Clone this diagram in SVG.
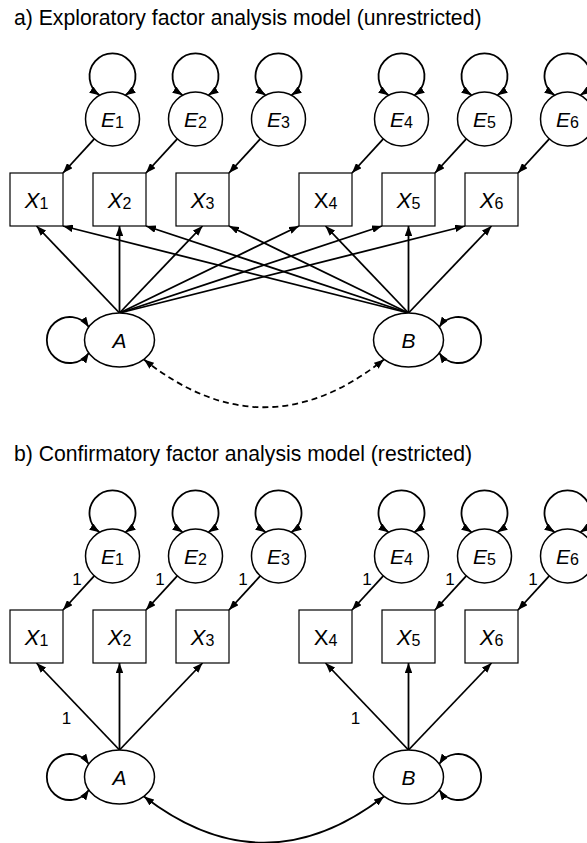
<svg xmlns="http://www.w3.org/2000/svg" width="587" height="843" viewBox="0 0 587 843">
<defs>
<marker id="ah" viewBox="0 0 10 7.5" markerWidth="10" markerHeight="7.5" refX="10" refY="3.75" markerUnits="userSpaceOnUse" orient="auto-start-reverse">
<path d="M0,0 L10,3.75 L0,7.5 z" fill="#000"/>
</marker>
<style>
text{font-family:"Liberation Sans",Arial,Helvetica,sans-serif;fill:#000}
.title{font-size:21.2px}
.box{fill:#fff;stroke:#000;stroke-width:1.2}
.circ{fill:#fff;stroke:#000;stroke-width:1.5}
.lbl{font-size:21px;text-anchor:middle}
.lx{font-size:22px;text-anchor:middle}
.it{font-style:italic}
.sub{font-size:16px}
.one{font-size:17px;text-anchor:middle}
.ar{fill:none;stroke:#000;stroke-width:1.8;marker-end:url(#ah)}
.dbl{fill:none;stroke:#000;stroke-width:1.8;marker-start:url(#ah);marker-end:url(#ah)}
.dash{stroke-dasharray:6 4}
</style>
</defs>
<rect width="587" height="843" fill="#fff"/>

<text class="title" x="14" y="25">a)  Exploratory factor analysis model (unrestricted)</text>
<text class="title" x="14" y="461">b)  Confirmatory factor analysis model (restricted)</text>

<g id="connectors">
<!-- section a: E self loops -->
<path class="dbl" d="M99.5,95.3 A23,23 0 1 1 125.5,95.3"/>
<path class="dbl" d="M182.5,95.3 A23,23 0 1 1 208.5,95.3"/>
<path class="dbl" d="M265.5,95.3 A23,23 0 1 1 291.5,95.3"/>
<path class="dbl" d="M388.5,95.3 A23,23 0 1 1 414.5,95.3"/>
<path class="dbl" d="M471.5,95.3 A23,23 0 1 1 497.5,95.3"/>
<path class="dbl" d="M554.5,95.3 A23,23 0 1 1 580.5,95.3"/>
<!-- E -> X -->
<path class="ar" d="M94.3,138.9 L63,173"/>
<path class="ar" d="M177.3,138.9 L146,173"/>
<path class="ar" d="M260.3,138.9 L229,173"/>
<path class="ar" d="M383.3,138.9 L352,173"/>
<path class="ar" d="M466.3,138.9 L435,173"/>
<path class="ar" d="M549.3,138.9 L518,173"/>
<!-- A loadings -->
<path class="ar" d="M119.5,313 L36.5,226"/>
<path class="ar" d="M119.5,313 L119.5,226"/>
<path class="ar" d="M119.5,313 L202.5,226"/>
<path class="ar" d="M119.5,313 L299,226"/>
<path class="ar" d="M119.5,313 L382,226"/>
<path class="ar" d="M119.5,313 L465,226"/>
<!-- B loadings -->
<path class="ar" d="M408.5,313 L63,226"/>
<path class="ar" d="M408.5,313 L146,226"/>
<path class="ar" d="M408.5,313 L229,226"/>
<path class="ar" d="M408.5,313 L325.5,226"/>
<path class="ar" d="M408.5,313 L408.5,226"/>
<path class="ar" d="M408.5,313 L491.5,226"/>
<!-- factor loops -->
<path class="dbl" d="M88.8,327 A23,23 0 1 0 88.8,353"/>
<path class="dbl" d="M439.2,327 A23,23 0 1 1 439.2,353"/>
<!-- covariance dashed -->
<path class="dbl dash" d="M144,359.5 Q264,455 384,359.5"/>

<!-- section b: E self loops -->
<path class="dbl" d="M99.5,532.3 A23,23 0 1 1 125.5,532.3"/>
<path class="dbl" d="M182.5,532.3 A23,23 0 1 1 208.5,532.3"/>
<path class="dbl" d="M265.5,532.3 A23,23 0 1 1 291.5,532.3"/>
<path class="dbl" d="M388.5,532.3 A23,23 0 1 1 414.5,532.3"/>
<path class="dbl" d="M471.5,532.3 A23,23 0 1 1 497.5,532.3"/>
<path class="dbl" d="M554.5,532.3 A23,23 0 1 1 580.5,532.3"/>
<!-- E -> X -->
<path class="ar" d="M94.3,575.9 L63,610"/>
<path class="ar" d="M177.3,575.9 L146,610"/>
<path class="ar" d="M260.3,575.9 L229,610"/>
<path class="ar" d="M383.3,575.9 L352,610"/>
<path class="ar" d="M466.3,575.9 L435,610"/>
<path class="ar" d="M549.3,575.9 L518,610"/>
<!-- loadings -->
<path class="ar" d="M119.5,750 L36.5,663"/>
<path class="ar" d="M119.5,750 L119.5,663"/>
<path class="ar" d="M119.5,750 L202.5,663"/>
<path class="ar" d="M408.5,750 L325.5,663"/>
<path class="ar" d="M408.5,750 L408.5,663"/>
<path class="ar" d="M408.5,750 L491.5,663"/>
<!-- factor loops -->
<path class="dbl" d="M88.8,764 A23,23 0 1 0 88.8,790"/>
<path class="dbl" d="M439.2,764 A23,23 0 1 1 439.2,790"/>
<!-- covariance -->
<path class="dbl" d="M144,796.5 Q264,889 384,796.5"/>
<!-- fixed loadings -->
<text class="one" x="77" y="585">1</text>
<text class="one" x="160" y="585">1</text>
<text class="one" x="243" y="585">1</text>
<text class="one" x="367" y="585">1</text>
<text class="one" x="450" y="585">1</text>
<text class="one" x="533" y="585">1</text>
<text class="one" x="66.5" y="724">1</text>
<text class="one" x="355.5" y="724">1</text>
</g>

<!-- section a nodes -->
<g id="a-E1"><circle class="circ" cx="112.5" cy="119" r="27"/><text class="lbl" x="112.5" y="126.5"><tspan class="it">E</tspan><tspan class="sub" dy="1.5">1</tspan></text></g>
<g id="a-E2"><circle class="circ" cx="195.5" cy="119" r="27"/><text class="lbl" x="195.5" y="126.5"><tspan class="it">E</tspan><tspan class="sub" dy="1.5">2</tspan></text></g>
<g id="a-E3"><circle class="circ" cx="278.5" cy="119" r="27"/><text class="lbl" x="278.5" y="126.5"><tspan class="it">E</tspan><tspan class="sub" dy="1.5">3</tspan></text></g>
<g id="a-E4"><circle class="circ" cx="401.5" cy="119" r="27"/><text class="lbl" x="401.5" y="126.5"><tspan class="it">E</tspan><tspan class="sub" dy="1.5">4</tspan></text></g>
<g id="a-E5"><circle class="circ" cx="484.5" cy="119" r="27"/><text class="lbl" x="484.5" y="126.5"><tspan class="it">E</tspan><tspan class="sub" dy="1.5">5</tspan></text></g>
<g id="a-E6"><circle class="circ" cx="567.5" cy="119" r="27"/><text class="lbl" x="567.5" y="126.5"><tspan class="it">E</tspan><tspan class="sub" dy="1.5">6</tspan></text></g>

<g id="a-X1"><rect class="box" x="10" y="173" width="53" height="53"/><text class="lx" x="36.5" y="208"><tspan class="it">X</tspan><tspan class="sub" dy="1">1</tspan></text></g>
<g id="a-X2"><rect class="box" x="93" y="173" width="53" height="53"/><text class="lx" x="119.5" y="208"><tspan class="it">X</tspan><tspan class="sub" dy="1">2</tspan></text></g>
<g id="a-X3"><rect class="box" x="176" y="173" width="53" height="53"/><text class="lx" x="202.5" y="208"><tspan class="it">X</tspan><tspan class="sub" dy="1">3</tspan></text></g>
<g id="a-X4"><rect class="box" x="299" y="173" width="53" height="53"/><text class="lx" x="325.5" y="208"><tspan>X</tspan><tspan class="sub" dy="1">4</tspan></text></g>
<g id="a-X5"><rect class="box" x="382" y="173" width="53" height="53"/><text class="lx" x="408.5" y="208"><tspan class="it">X</tspan><tspan class="sub" dy="1">5</tspan></text></g>
<g id="a-X6"><rect class="box" x="465" y="173" width="53" height="53"/><text class="lx" x="491.5" y="208"><tspan class="it">X</tspan><tspan class="sub" dy="1">6</tspan></text></g>

<g id="a-A"><ellipse class="circ" cx="119.5" cy="340" rx="35" ry="27"/><text class="lbl it" x="119.5" y="347.5">A</text></g>
<g id="a-B"><ellipse class="circ" cx="408.5" cy="340" rx="35" ry="27"/><text class="lbl it" x="408.5" y="347.5">B</text></g>

<!-- section b nodes -->
<g id="b-E1"><circle class="circ" cx="112.5" cy="556" r="27"/><text class="lbl" x="112.5" y="563.5"><tspan class="it">E</tspan><tspan class="sub" dy="1.5">1</tspan></text></g>
<g id="b-E2"><circle class="circ" cx="195.5" cy="556" r="27"/><text class="lbl" x="195.5" y="563.5"><tspan class="it">E</tspan><tspan class="sub" dy="1.5">2</tspan></text></g>
<g id="b-E3"><circle class="circ" cx="278.5" cy="556" r="27"/><text class="lbl" x="278.5" y="563.5"><tspan class="it">E</tspan><tspan class="sub" dy="1.5">3</tspan></text></g>
<g id="b-E4"><circle class="circ" cx="401.5" cy="556" r="27"/><text class="lbl" x="401.5" y="563.5"><tspan class="it">E</tspan><tspan class="sub" dy="1.5">4</tspan></text></g>
<g id="b-E5"><circle class="circ" cx="484.5" cy="556" r="27"/><text class="lbl" x="484.5" y="563.5"><tspan class="it">E</tspan><tspan class="sub" dy="1.5">5</tspan></text></g>
<g id="b-E6"><circle class="circ" cx="567.5" cy="556" r="27"/><text class="lbl" x="567.5" y="563.5"><tspan class="it">E</tspan><tspan class="sub" dy="1.5">6</tspan></text></g>

<g id="b-X1"><rect class="box" x="10" y="610" width="53" height="53"/><text class="lx" x="36.5" y="645"><tspan class="it">X</tspan><tspan class="sub" dy="1">1</tspan></text></g>
<g id="b-X2"><rect class="box" x="93" y="610" width="53" height="53"/><text class="lx" x="119.5" y="645"><tspan class="it">X</tspan><tspan class="sub" dy="1">2</tspan></text></g>
<g id="b-X3"><rect class="box" x="176" y="610" width="53" height="53"/><text class="lx" x="202.5" y="645"><tspan class="it">X</tspan><tspan class="sub" dy="1">3</tspan></text></g>
<g id="b-X4"><rect class="box" x="299" y="610" width="53" height="53"/><text class="lx" x="325.5" y="645"><tspan>X</tspan><tspan class="sub" dy="1">4</tspan></text></g>
<g id="b-X5"><rect class="box" x="382" y="610" width="53" height="53"/><text class="lx" x="408.5" y="645"><tspan class="it">X</tspan><tspan class="sub" dy="1">5</tspan></text></g>
<g id="b-X6"><rect class="box" x="465" y="610" width="53" height="53"/><text class="lx" x="491.5" y="645"><tspan class="it">X</tspan><tspan class="sub" dy="1">6</tspan></text></g>

<g id="b-A"><ellipse class="circ" cx="119.5" cy="777" rx="35" ry="27"/><text class="lbl it" x="119.5" y="784.5">A</text></g>
<g id="b-B"><ellipse class="circ" cx="408.5" cy="777" rx="35" ry="27"/><text class="lbl it" x="408.5" y="784.5">B</text></g>
</svg>
